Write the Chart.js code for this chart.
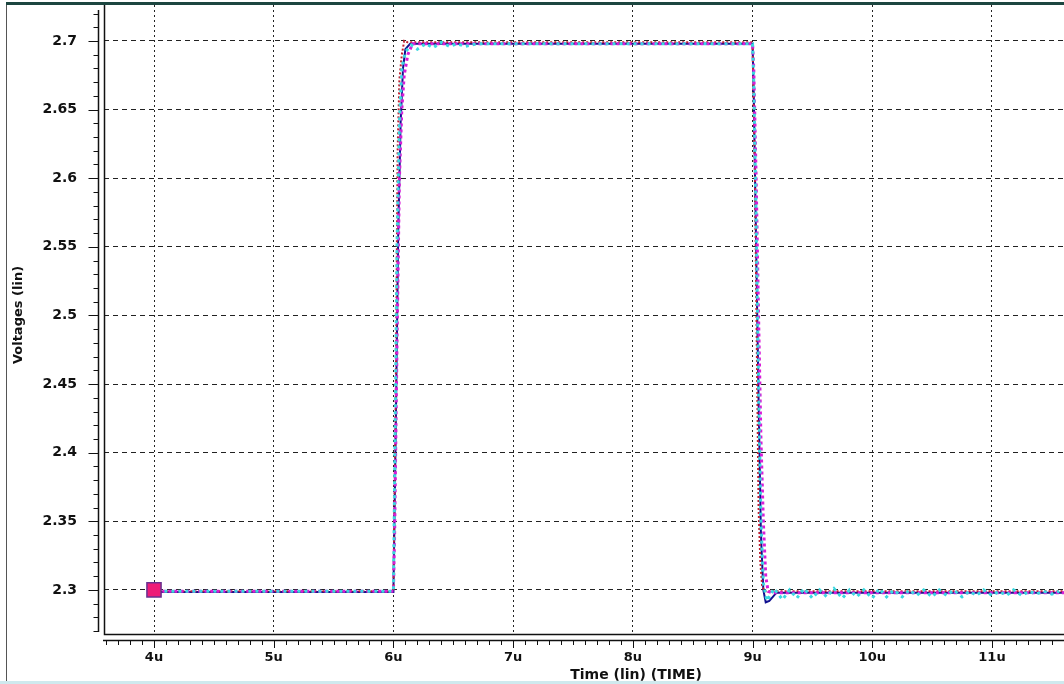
<!DOCTYPE html>
<html>
<head>
<meta charset="utf-8">
<script src="https://cdn.jsdelivr.net/npm/chart.js@4/dist/chart.umd.min.js"></script>
<style>
  html, body { margin: 0; padding: 0; background: #fff; }
  #wrap { width: 1064px; height: 684px; position: relative; overflow: hidden; }
</style>
</head>
<body>
<div id="wrap"><canvas id="chart" width="1064" height="684"></canvas></div>
<script>
// tick labels (time in u, voltage)
var xTicks = [4, 5, 6, 7, 8, 9, 10, 11];
var yTicks = [2.3, 2.35, 2.4, 2.45, 2.5, 2.55, 2.6, 2.65, 2.7];

// navy solid trace
var navyX = [3.97, 6.0, 6.02, 6.04, 6.06, 6.08, 6.1, 6.14, 9.0, 9.01, 9.03, 9.05, 9.07, 9.09, 9.11, 9.14, 9.2, 11.61];
var navyY = [2.2985, 2.2985, 2.42, 2.56, 2.64, 2.68, 2.694, 2.698, 2.698, 2.66, 2.55, 2.44, 2.34, 2.30, 2.291, 2.292, 2.298, 2.298];

// red dotted trace
var redX = [3.97, 6.0, 6.02, 6.035, 6.05, 6.07, 6.09, 6.12, 9.0, 9.02, 9.035, 9.05, 9.065, 9.08, 9.1, 9.15, 11.61];
var redY = [2.299, 2.299, 2.45, 2.62, 2.672, 2.69, 2.700, 2.699, 2.699, 2.6, 2.48, 2.36, 2.32, 2.303, 2.299, 2.299, 2.299];

// magenta dotted trace (a bit late)
var magX = [3.97, 6.0, 6.01, 6.03, 6.05, 6.07, 6.09, 6.12, 6.16, 9.0, 9.01, 9.03, 9.05, 9.07, 9.09, 9.11, 9.13, 9.16, 11.61];
var magY = [2.299, 2.299, 2.34, 2.48, 2.6, 2.65, 2.675, 2.69, 2.698, 2.698, 2.68, 2.6, 2.5, 2.41, 2.35, 2.31, 2.299, 2.298, 2.298];

// cyan dotted trace with ringing
var cyanX = [3.97, 6.0, 6.01, 6.03, 6.05, 6.07, 6.1, 6.15, 6.2, 6.27, 6.33, 6.4, 6.47, 6.53, 6.6, 6.7, 6.8, 9.0, 9.01, 9.03, 9.05, 9.07, 9.09,
  9.12, 9.18, 9.25, 9.31, 9.37, 9.43, 9.5, 9.56, 9.62, 9.68, 9.75, 9.81, 9.87, 9.93, 10.0, 10.06, 10.12, 10.18, 10.25, 10.31, 10.37, 10.43,
  10.5, 10.56, 10.62, 10.68, 10.75, 10.81, 10.87, 10.93, 11.0, 11.06, 11.12, 11.18, 11.25, 11.31, 11.37, 11.43, 11.5, 11.56, 11.61];
var cyanY = [2.299, 2.299, 2.38, 2.55, 2.64, 2.68, 2.692, 2.697, 2.694, 2.698, 2.695, 2.699, 2.696, 2.698, 2.696, 2.698, 2.698, 2.698, 2.67, 2.57, 2.45, 2.35, 2.305,
  2.292, 2.301, 2.293, 2.300, 2.294, 2.301, 2.294, 2.300, 2.295, 2.301, 2.294, 2.300, 2.295, 2.300, 2.294, 2.301, 2.295, 2.300, 2.295, 2.300,
  2.296, 2.300, 2.295, 2.300, 2.296, 2.300, 2.295, 2.299, 2.296, 2.300, 2.296, 2.299, 2.296, 2.300, 2.296, 2.299, 2.297, 2.299, 2.297, 2.299];

// start marker
var markerX = [4];
var markerY = [2.3];

function pts(xs, ys) {
  return xs.map(function (x, i) { return { x: x, y: ys[i] }; });
}

function noPad(s) {
  s.paddingTop = 0; s.paddingBottom = 0; s.paddingLeft = 0; s.paddingRight = 0;
}

var frame = {
  id: 'frame',
  afterDraw: function (chart) {
    var ctx = chart.ctx, a = chart.chartArea, xs = chart.scales.x, ys = chart.scales.y;
    ctx.save();
    // window border bits
    ctx.fillStyle = '#1c4640';
    ctx.fillRect(6, 2, 1058, 3);
    ctx.fillStyle = '#cfe9ee';
    ctx.fillRect(0, 681, 1064, 3);
    ctx.fillStyle = '#555';
    ctx.fillRect(6, 5, 1, 676);

    ctx.strokeStyle = '#111';
    ctx.lineWidth = 1.5;
    ctx.beginPath();
    // plot frame
    ctx.moveTo(a.left + 0.5, a.top);
    ctx.lineTo(a.left + 0.5, a.bottom + 0.5);
    ctx.lineTo(a.right, a.bottom + 0.5);
    // y axis line
    ctx.moveTo(a.left - 5.5, a.top + 5);
    ctx.lineTo(a.left - 5.5, a.bottom - 2);
    // x axis line
    ctx.moveTo(a.left - 1, a.bottom + 6.5);
    ctx.lineTo(a.right, a.bottom + 6.5);
    ctx.stroke();

    ctx.lineWidth = 1;
    ctx.beginPath();
    for (var k = 227; k <= 272; k++) {
      var py = Math.round(ys.getPixelForValue(k / 100)) + 0.5;
      var len = (k % 5 === 0) ? 10 : 5;
      ctx.moveTo(a.left - 5.5, py);
      ctx.lineTo(a.left - 5.5 - len, py);
    }
    for (var j = 36; j <= 116; j++) {
      var px = Math.round(xs.getPixelForValue(j / 10)) + 0.5;
      var l2 = (j % 10 === 0) ? 8 : 5;
      ctx.moveTo(px, a.bottom + 6);
      ctx.lineTo(px, a.bottom + 6 + l2);
    }
    ctx.stroke();

    // axis titles
    ctx.fillStyle = '#111';
    ctx.textAlign = 'center';
    ctx.textBaseline = 'middle';
    ctx.font = 'bold 14px "DejaVu Sans"';
    ctx.fillText('Time (lin) (TIME)', 636, 675);
    ctx.font = 'bold 13px "DejaVu Sans"';
    ctx.translate(19, 315);
    ctx.rotate(-Math.PI / 2);
    ctx.fillText('Voltages (lin)', 0, 0);
    ctx.restore();
  }
};

var lineBase = { showLine: true, pointRadius: 0, fill: false, tension: 0 };

new Chart(document.getElementById('chart'), {
  type: 'scatter',
  data: {
    datasets: [
      Object.assign({}, lineBase, { data: pts(magX, magY), borderColor: '#d81cd8', borderWidth: 3, borderDash: [3, 3], order: 2 }),
      Object.assign({}, lineBase, { data: pts(redX, redY), borderColor: '#c02030', borderWidth: 2, borderDash: [2, 2], order: 3 }),
      Object.assign({}, lineBase, { data: pts(navyX, navyY), borderColor: '#101090', borderWidth: 2, order: 4 }),
      Object.assign({}, lineBase, { data: pts(cyanX, cyanY), borderColor: '#3ad8e0', borderWidth: 3, borderDash: [3, 4], order: 1 }),
      { data: pts(markerX, markerY), pointStyle: 'rect', pointRadius: 10, backgroundColor: '#ee1c78',
        borderColor: '#6a3090', borderWidth: 1.5, showLine: false, order: 0 }
    ]
  },
  options: {
    responsive: false,
    animation: false,
    events: [],
    layout: { autoPadding: false, padding: { top: 5, right: 0, left: 0, bottom: 0 } },
    plugins: { legend: { display: false }, tooltip: { enabled: false } },
    scales: {
      x: {
        type: 'linear',
        min: 3.5823,
        max: 11.6016,
        afterBuildTicks: function (s) { s.ticks = xTicks.map(function (v) { return { value: v }; }); },
        afterFit: function (s) { s.height = 50; noPad(s); },
        border: { display: false, dash: [2, 3] },
        grid: { color: '#222', lineWidth: 1, drawTicks: false },
        ticks: {
          padding: 16,
          color: '#111',
          font: { family: 'DejaVu Sans', size: 13, weight: 'bold' },
          maxRotation: 0,
          callback: function (v) { return v + 'u'; }
        }
      },
      y: {
        type: 'linear',
        min: 2.2679,
        max: 2.7262,
        afterBuildTicks: function (s) { s.ticks = yTicks.map(function (v) { return { value: v }; }); },
        afterFit: function (s) { s.width = 104; noPad(s); },
        border: { display: false, dash: [5, 4] },
        grid: { color: '#222', lineWidth: 1, drawTicks: false },
        ticks: {
          padding: 27,
          color: '#111',
          font: { family: 'DejaVu Sans', size: 14, weight: 'bold' },
          callback: function (v) { return String(+v.toFixed(2)); }
        }
      }
    }
  },
  plugins: [frame]
});
</script>
</body>
</html>
